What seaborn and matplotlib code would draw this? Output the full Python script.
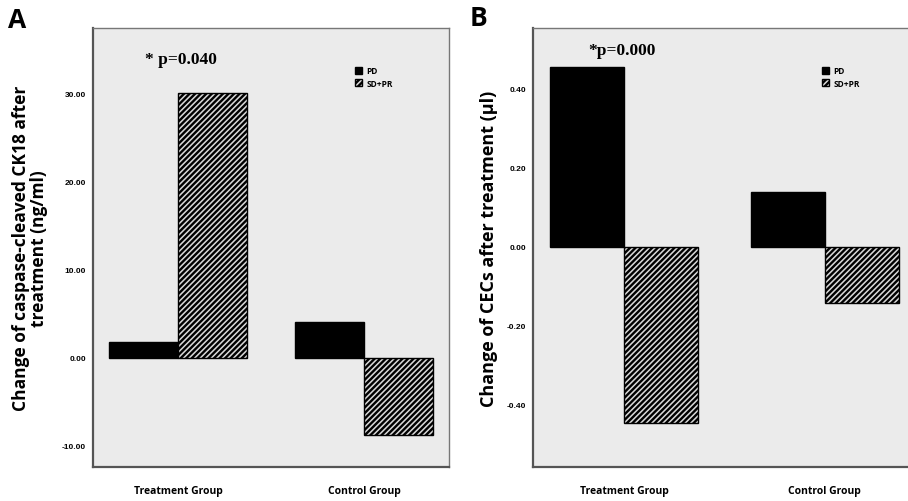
import matplotlib
matplotlib.use("Agg")
import matplotlib.pyplot as plt
import pandas as pd
import seaborn as sns
from matplotlib.patches import Patch

## Data ##
groups = ["Treatment Group", "Control Group"]
responses = ["PD", "SD+PR"]
ck18_pd = [1.8, 4.0]
ck18_sdpr = [30.0, -8.75]
cec_pd = [0.456, 0.139]
cec_sdpr = [-0.446, -0.142]

a_ticks = [-10, 0, 10, 20, 30]
b_ticks = [-0.4, -0.2, 0.0, 0.2, 0.4]

df_a = pd.DataFrame({"group": groups * 2,
                     "response": ["PD"] * 2 + ["SD+PR"] * 2,
                     "value": ck18_pd + ck18_sdpr})
df_b = pd.DataFrame({"group": groups * 2,
                     "response": ["PD"] * 2 + ["SD+PR"] * 2,
                     "value": cec_pd + cec_sdpr})

sns.set_style("white")
plt.rcParams["font.family"] = ["Open Sans", "DejaVu Sans"]
plt.rcParams["hatch.linewidth"] = 1.7
plt.rcParams["hatch.color"] = "black"
plt.rcParams["text.color"] = "black"
plt.rcParams["axes.labelcolor"] = "black"
plt.rcParams["xtick.color"] = "black"
plt.rcParams["ytick.color"] = "black"

fig = plt.figure(figsize=(9.08, 5.02), dpi=100)
ax_a = fig.add_axes([93 / 908, 1 - 468 / 502, 356 / 908, 439 / 502])
ax_b = fig.add_axes([533 / 908, 1 - 468 / 502, 383 / 908, 439 / 502])

bg = "#ebebeb"
edge = "#555555"


def draw_panel(ax, data, ticks, fmt, ylim, ylabel, lsize, lpad, ptext, px, py, lx):
    sns.barplot(data=data, x="group", y="value", hue="response", order=groups,
                hue_order=responses, palette=["black", "white"], width=0.74,
                gap=0, edgecolor="black", linewidth=1.0, saturation=1,
                legend=False, ax=ax)
    # hatch the SD+PR bars
    for bar in ax.patches[len(groups):]:
        bar.set_hatch("//////")
        bar.set_facecolor("#d8d8d8")
    ax.set_facecolor(bg)
    ax.set_xlim(-0.457, 1.457)
    ax.set_ylim(*ylim)
    ax.set_yticks(ticks)
    ax.set_yticklabels([fmt.format(t) for t in ticks], fontsize=6, fontweight="bold",
                       family=["Liberation Sans Narrow", "Liberation Sans", "DejaVu Sans"])
    ax.set_xticks(range(len(groups)))
    ax.set_xticklabels(groups, fontsize=7.5, fontweight="bold")
    ax.set_xlabel("")
    ax.set_ylabel(ylabel, fontsize=lsize, fontweight="bold", labelpad=lpad, linespacing=1.0)
    for side in ["top", "right"]:
        ax.spines[side].set_color("#777777")
        ax.spines[side].set_linewidth(1.0)
    for side in ["left", "bottom"]:
        ax.spines[side].set_color(edge)
        ax.spines[side].set_linewidth(1.6)
    ax.tick_params(axis="y", length=4, width=1, color=edge, pad=1)
    ax.tick_params(axis="x", length=5, width=1, color=edge, pad=8)
    ax.text(px, py, ptext, transform=ax.transAxes, fontsize=12.5, fontweight="bold",
            family=["Liberation Serif", "DejaVu Serif"], ha="left", va="center")
    handles = [Patch(facecolor="black", edgecolor="black", label="PD"),
               Patch(facecolor="#d8d8d8", edgecolor="black", hatch="//////", label="SD+PR")]
    ax.legend(handles=handles, loc="upper left", bbox_to_anchor=(lx, 0.93),
              frameon=False, handlelength=0.8, handleheight=0.8,
              handletextpad=0.6, labelspacing=0.4,
              prop={"weight": "bold", "size": 6})


draw_panel(ax_a, df_a, a_ticks, "{:.2f}", (-12.4, 37.4),
           "Change of caspase-cleaved CK18 after\ntreatment (ng/ml)", 12.5, 10,
           "* p=0.040", 0.145, 0.93, 0.715)
draw_panel(ax_b, df_b, b_ticks, "{:.2f}", (-0.557, 0.554),
           "Change of CECs after treatment (\u03bcl)", 13, 6,
           "*p=0.000", 0.145, 0.95, 0.735)

fig.text(8 / 908, 1 - 21 / 502, "A", fontsize=19, fontweight="bold", va="center", ha="left")
fig.text(470 / 908, 1 - 19 / 502, "B", fontsize=19, fontweight="bold", va="center", ha="left")

fig.savefig("out.png", dpi=100, facecolor="white")
